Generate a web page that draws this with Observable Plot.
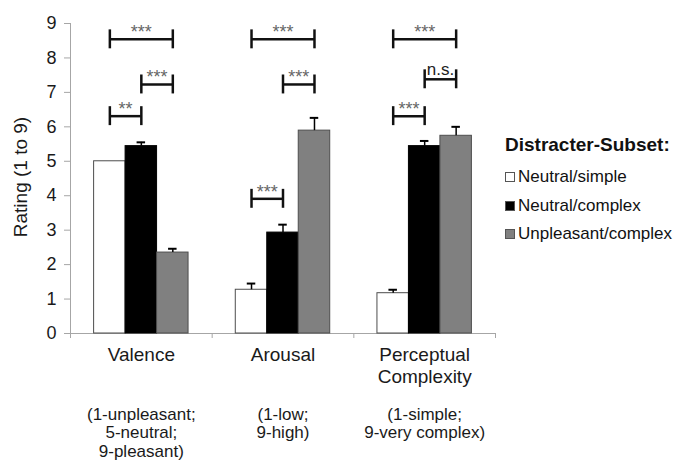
<!DOCTYPE html>
<html>
<head>
<meta charset="utf-8">
<script src="https://cdn.jsdelivr.net/npm/d3@7"></script>
<script src="https://cdn.jsdelivr.net/npm/@observablehq/plot@0.6"></script>
<style>
  body { margin: 0; background: #fff; font-family: "Liberation Sans", Arial, sans-serif; }
  #chart { position: relative; width: 677px; height: 462px; overflow: hidden; }
  #ytitle { position: absolute; left: 21px; top: 177px; transform: translate(-50%, -50%) rotate(-90deg); white-space: nowrap; font-size: 19px; line-height: 22px; color: #1a1a1a; }
  #legend { position: absolute; left: 505px; top: 0; color: #111; }
  #legend .title { position: absolute; top: 134px; left: 0; white-space: nowrap; font-weight: bold; font-size: 19px; line-height: 22px; }
  #legend .item { position: absolute; left: 0; white-space: nowrap; font-size: 17px; line-height: 20px; height: 20px; display: flex; align-items: center; }
  #legend .swatch { width: 10px; height: 10px; border: 1px solid #555; margin-right: 3px; box-sizing: border-box; }
</style>
</head>
<body>
<div id="chart"></div>
<script>
// Mean ratings of the three distracter subsets on each rating dimension
const categories = ["Valence", "Arousal", "Perceptual\nComplexity"];
const scaleNotes = ["(1-unpleasant;\n5-neutral;\n9-pleasant)", "(1-low;\n9-high)", "(1-simple;\n9-very complex)"];
const subsets = ["Neutral/simple", "Neutral/complex", "Unpleasant/complex"];
const yTitle = "Rating (1 to 9)";

const neutralSimple = [5.0, 1.27, 1.17];
const neutralComplex = [5.44, 2.93, 5.44];
const unpleasantComplex = [2.35, 5.89, 5.74];

// Upper error bars (SEM)
const neutralSimpleErr = [0, 0.18, 0.1];
const neutralComplexErr = [0.11, 0.23, 0.15];
const unpleasantComplexErr = [0.11, 0.37, 0.26];

// Pairwise comparisons: category index, subset indices, bracket height, significance
const compCategory = [0, 0, 0, 1, 1, 1, 2, 2, 2];
const compFrom = [0, 1, 0, 0, 1, 0, 0, 1, 0];
const compTo = [1, 2, 2, 1, 2, 2, 1, 2, 2];
const compLevel = [6.31, 7.23, 8.54, 3.91, 7.23, 8.54, 6.31, 7.38, 8.54];
const compLabel = ["**", "***", "***", "***", "***", "***", "***", "n.s.", "***"];

const fills = ["#ffffff", "#000000", "#808080"];
const strokes = ["#4d4d4d", "#000000", "#4d4d4d"];

const series = [neutralSimple, neutralComplex, unpleasantComplex];
const errs = [neutralSimpleErr, neutralComplexErr, unpleasantComplexErr];

// Three bars per category, each 2/9 of a category slot wide
const barW = 2 / 9;
const center = (cat, sub) => cat + 1 + (sub - 1) * barW;

const rows = [];
categories.forEach((c, i) => subsets.forEach((s, j) => {
  rows.push({cat: i, subset: j, value: series[j][i], err: errs[j][i], x: center(i, j)});
}));

const comps = compCategory.map((c, k) => ({
  x1: center(c, compFrom[k]),
  x2: center(c, compTo[k]),
  level: compLevel[k],
  label: compLabel[k]
}));

const capHalf = 0.275;  // bracket end-cap half height, rating units
const errCap = 0.03;    // error-bar cap half width, category units

const barMarks = subsets.map((s, j) => Plot.rectY(rows.filter(d => d.subset === j), {
  x1: d => d.x - barW / 2,
  x2: d => d.x + barW / 2,
  y1: 0,
  y2: "value",
  fill: fills[j],
  stroke: strokes[j],
  strokeWidth: 1
}));

const withErr = rows.filter(d => d.err > 0);

const chart = Plot.plot({
  width: 677,
  height: 462,
  marginLeft: 70,
  marginRight: 182,
  marginTop: 23,
  marginBottom: 129,
  x: {domain: [0.5, 3.5], axis: null},
  y: {domain: [0, 9], axis: null},
  style: {fontFamily: "'Liberation Sans', Arial, sans-serif", fontSize: "17px", color: "#1a1a1a", background: "transparent"},
  marks: [
    Plot.axisY({ticks: d3.range(0, 10), tickSize: 6, tickPadding: 8, fontSize: 18, stroke: "#a6a6a6", fill: "#1a1a1a", label: null}),
    Plot.axisX({ticks: [0.5, 1.5, 2.5, 3.5], tickFormat: () => "", tickSize: 5, stroke: "#a6a6a6", label: null}),
    Plot.ruleX([0.5], {stroke: "#a6a6a6"}),
    Plot.ruleY([0], {stroke: "#a6a6a6"}),
    ...barMarks,
    // error bars
    Plot.ruleX(withErr, {x: "x", y1: "value", y2: d => d.value + d.err, stroke: "#000", strokeWidth: 1.5}),
    Plot.ruleY(withErr, {x1: d => d.x - errCap, x2: d => d.x + errCap, y: d => d.value + d.err, stroke: "#000", strokeWidth: 2}),
    // significance brackets
    Plot.ruleY(comps, {x1: "x1", x2: "x2", y: "level", stroke: "#111", strokeWidth: 2.5}),
    Plot.ruleX(comps, {x: "x1", y1: d => d.level - capHalf, y2: d => d.level + capHalf, stroke: "#111", strokeWidth: 2.5}),
    Plot.ruleX(comps, {x: "x2", y1: d => d.level - capHalf, y2: d => d.level + capHalf, stroke: "#111", strokeWidth: 2.5}),
    Plot.text(comps.filter(d => d.label !== "n.s."), {x: d => (d.x1 + d.x2) / 2, y: "level", text: "label", lineAnchor: "bottom", dy: -1, fontSize: 18, fill: "#666"}),
    Plot.text(comps.filter(d => d.label === "n.s."), {x: d => (d.x1 + d.x2) / 2, y: "level", text: "label", lineAnchor: "bottom", dy: -4, fontSize: 17, fill: "#222"}),
    // category labels and rating scale notes
    Plot.text(categories, {x: (d, i) => i + 1, frameAnchor: "bottom", lineAnchor: "top", dy: 12, fontSize: 19, lineHeight: 1.16, fill: "#1a1a1a"}),
    Plot.text(scaleNotes, {x: (d, i) => i + 1, frameAnchor: "bottom", lineAnchor: "top", dy: 73, fontSize: 17, lineHeight: 1.1, fill: "#1a1a1a"})
  ]
});

const root = document.getElementById("chart");
root.appendChild(chart);

// Rotated y-axis title
const yt = document.createElement("div");
yt.id = "ytitle";
yt.textContent = yTitle;
root.appendChild(yt);

// Legend
const legend = document.createElement("div");
legend.id = "legend";
const title = document.createElement("div");
title.className = "title";
title.textContent = "Distracter-Subset:";
legend.appendChild(title);
const itemTops = [167, 195.5, 224];
subsets.forEach((s, j) => {
  const item = document.createElement("div");
  item.className = "item";
  item.style.top = itemTops[j] + "px";
  const sw = document.createElement("span");
  sw.className = "swatch";
  sw.style.background = fills[j];
  const label = document.createElement("span");
  label.textContent = s;
  item.appendChild(sw);
  item.appendChild(label);
  legend.appendChild(item);
});
root.appendChild(legend);
</script>
</body>
</html>
